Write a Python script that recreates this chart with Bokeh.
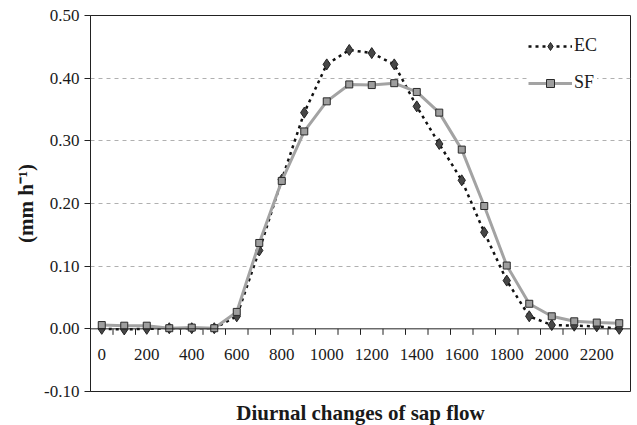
from bokeh.plotting import figure
from bokeh.models import Range1d, FixedTicker, Span, PrintfTickFormatter
from bokeh.core.properties import value
from bokeh.embed import file_html
from bokeh.resources import INLINE

# ---- data ----
hours = [0, 100, 200, 300, 400, 500, 600, 700, 800, 900, 1000, 1100,
         1200, 1300, 1400, 1500, 1600, 1700, 1800, 1900, 2000, 2100, 2200, 2300]
ec = [0.000, -0.001, 0.000, 0.001, 0.001, 0.001, 0.020, 0.125, 0.238, 0.345, 0.422, 0.445,
      0.440, 0.422, 0.355, 0.295, 0.237, 0.154, 0.077, 0.020, 0.006, 0.005, 0.004, 0.000]
sf = [0.006, 0.005, 0.005, 0.001, 0.002, 0.001, 0.027, 0.137, 0.236, 0.315, 0.363, 0.390,
      0.389, 0.392, 0.378, 0.345, 0.286, 0.196, 0.101, 0.040, 0.020, 0.012, 0.010, 0.009]
x_tick_positions = [0, 200, 400, 600, 800, 1000, 1200, 1400, 1600, 1800, 2000, 2200]
x_tick_labels = ["0", "200", "400", "600", "800", "1000", "1200", "1400", "1600", "1800", "2000", "2200"]
x_tick_marks = [50 + 100 * i for i in range(23)]
y_ticks = [-0.1, 0.0, 0.1, 0.2, 0.3, 0.4, 0.5]
grid_levels = [0.1, 0.2, 0.3, 0.4]

FONT = "Liberation Serif"
TXT = "#1a1a1a"

p = figure(frame_width=540, frame_height=376, output_backend="svg", toolbar_location=None,
           x_range=Range1d(-50, 2350), y_range=Range1d(-0.1, 0.5),
           min_border_left=90, min_border_right=1, min_border_top=15, min_border_bottom=30)

p.outline_line_color = "#222222"
p.outline_line_width = 1
p.background_fill_color = "white"
p.border_fill_color = "white"

# grid
p.xgrid.visible = False
p.ygrid.ticker = FixedTicker(ticks=grid_levels)
p.ygrid.grid_line_color = "#b0b0b0"
p.ygrid.grid_line_dash = "4 4"
p.ygrid.grid_line_width = 1

# y axis
ya = p.yaxis[0]
ya.ticker = FixedTicker(ticks=y_ticks)
ya.formatter = PrintfTickFormatter(format="%.2f")
ya.major_tick_in = 0
ya.major_tick_out = 6
ya.minor_tick_line_color = None
ya.axis_line_color = "#222222"
ya.major_tick_line_color = "#222222"
ya.major_label_text_font = FONT
ya.major_label_text_font_size = "17px"
ya.major_label_text_color = TXT
ya.major_label_standoff = 5
ya.axis_label = "(mm h\u207b\u00b9)"
ya.axis_label_text_font = FONT
ya.axis_label_text_font_style = "bold"
ya.axis_label_text_font_size = "21px"
ya.axis_label_text_color = TXT
ya.axis_label_standoff = 3

# bottom axis (title only)
xa = p.xaxis[0]
xa.ticker = FixedTicker(ticks=[])
xa.axis_line_color = None
xa.major_tick_line_color = None
xa.minor_tick_line_color = None
xa.axis_label = "Diurnal changes of sap flow"
xa.axis_label_text_font = FONT
xa.axis_label_text_font_style = "bold"
xa.axis_label_text_font_size = "21px"
xa.axis_label_text_color = TXT
xa.axis_label_standoff = 9

# category axis drawn at y = 0
p.add_layout(Span(location=0, dimension="width", line_color="#222222", line_width=1))
p.segment(x0=x_tick_marks, y0=[0] * len(x_tick_marks), x1=x_tick_marks,
          y1=[-0.0096] * len(x_tick_marks), line_color="#222222", line_width=1)
p.text(x=x_tick_positions, y=[-0.041] * len(x_tick_positions), text=x_tick_labels,
       text_font=value(FONT), text_font_size="17px", text_color=TXT,
       text_align="center", text_baseline="middle")

# series
p.line(hours, ec, line_color="#111111", line_width=2.5, line_dash="3 4", legend_label="EC")
p.scatter(hours, ec, marker="diamond", size=11, fill_color="#474747",
          line_color="#222222", line_width=1, legend_label="EC")
p.line(hours, sf, line_color="#a3a3a3", line_width=3, legend_label="SF")
p.scatter(hours, sf, marker="square", size=7, fill_color="#9e9e9e",
          line_color="#2a2a2a", line_width=1, legend_label="SF")

lg = p.legend[0]
lg.location = (438, 298)
lg.border_line_color = None
lg.background_fill_color = "white"
lg.background_fill_alpha = 1
lg.label_text_font = FONT
lg.label_text_font_size = "18px"
lg.label_text_color = TXT
lg.glyph_width = 44
lg.glyph_height = 20
lg.spacing = 16
lg.padding = 10
lg.margin = 0
lg.label_standoff = 2

open("out.html", "w").write(file_html(p, INLINE))
